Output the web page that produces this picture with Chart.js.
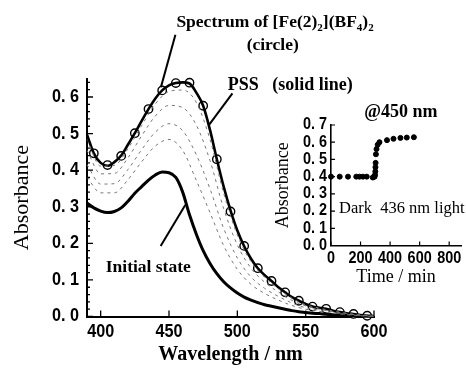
<!DOCTYPE html>
<html>
<head>
<meta charset="utf-8">
<script src="https://cdn.jsdelivr.net/npm/chart.js@4.4.0/dist/chart.umd.min.js"></script>
<style>
html, body { margin: 0; padding: 0; background: #fff; }
#wrap { position: relative; width: 466px; height: 369px; overflow: hidden; }
#main { position: absolute; left: 0; top: 0; }
#inset { position: absolute; left: 265px; top: 95px; }
</style>
</head>
<body>
<div id="wrap">
<canvas id="main" width="466" height="369"></canvas>
<canvas id="inset" width="201" height="200"></canvas>
</div>
<script>
// spectra, 5 nm steps
const wavelength = [390, 395, 400, 405, 410, 415, 420, 425, 430, 435, 440, 445, 450, 455, 460, 465, 470, 475, 480, 485, 490,
  495, 500, 505, 510, 515, 520, 525, 530, 535, 540, 545, 550, 555, 560, 565, 570, 575, 580, 585, 590, 595, 600]
const pss = [0.497, 0.446, 0.420, 0.412, 0.422, 0.440, 0.470, 0.501, 0.535, 0.567, 0.596, 0.618, 0.632, 0.638, 0.640, 0.637,
  0.612, 0.576, 0.510, 0.430, 0.355, 0.290, 0.235, 0.192, 0.158, 0.132, 0.113, 0.097, 0.080, 0.066, 0.053, 0.043, 0.034,
  0.027, 0.024, 0.021, 0.016, 0.012, 0.009, 0.007, 0.004, 0.002, 0.001]
const initial = [0.310, 0.297, 0.288, 0.284, 0.287, 0.297, 0.315, 0.337, 0.355, 0.373, 0.387, 0.395, 0.393, 0.380, 0.340,
  0.278, 0.225, 0.180, 0.145, 0.117, 0.095, 0.078, 0.064, 0.053, 0.045, 0.038, 0.032, 0.028, 0.024, 0.020, 0.016, 0.013,
  0.011, 0.009, 0.008, 0.006, 0.005, 0.004, 0.003, 0.002, 0.001, 0.001, 0.000]

// Fe complex spectrum (circles)
const circleWl = [395, 405, 415, 425, 435, 445, 455, 465, 475, 485, 495, 505, 515, 525, 535, 545, 555, 565, 575, 585, 595]
const circleAbs = [0.446, 0.414, 0.439, 0.501, 0.567, 0.618, 0.638, 0.639, 0.576, 0.430, 0.287, 0.193, 0.132, 0.097, 0.066,
  0.043, 0.027, 0.021, 0.012, 0.007, 0.002]

// intermediate spectra (dashed), 10 nm steps
const wl10 = [390, 400, 410, 420, 430, 440, 450, 460, 470, 480, 490, 500, 510, 520, 530, 540, 550, 560, 570, 580, 590, 600]
const mid1 = [0.484, 0.411, 0.413, 0.459, 0.522, 0.581, 0.615, 0.619, 0.585, 0.484, 0.337, 0.223, 0.150, 0.107, 0.076, 0.050,
  0.032, 0.023, 0.015, 0.009, 0.004, 0.001]
const mid2 = [0.454, 0.390, 0.391, 0.434, 0.494, 0.548, 0.577, 0.571, 0.523, 0.426, 0.295, 0.196, 0.132, 0.094, 0.067, 0.044,
  0.029, 0.020, 0.013, 0.008, 0.003, 0.001]
const mid3 = [0.415, 0.362, 0.363, 0.402, 0.456, 0.504, 0.527, 0.508, 0.442, 0.349, 0.241, 0.160, 0.108, 0.077, 0.055, 0.037,
  0.024, 0.017, 0.011, 0.006, 0.003, 0.001]
const mid4 = [0.381, 0.338, 0.338, 0.374, 0.423, 0.466, 0.484, 0.454, 0.372, 0.284, 0.194, 0.129, 0.088, 0.063, 0.045, 0.030,
  0.020, 0.014, 0.009, 0.005, 0.002, 0.000]

// inset: absorbance at 450 nm vs time
const timeMin = [0, 59, 115, 171, 193, 216, 242, 283, 290, 295, 298, 300, 301, 302, 304, 308, 316, 328, 379, 423, 470, 513, 561]
const abs450 = [0.40, 0.40, 0.40, 0.40, 0.40, 0.40, 0.40, 0.395, 0.40, 0.40, 0.41, 0.43, 0.455, 0.48, 0.53, 0.56, 0.585, 0.60,
  0.612, 0.62, 0.625, 0.627, 0.629]

const serif = '"Liberation Serif", "Times New Roman", serif'
const sans = '"Liberation Sans", Arial, sans-serif'

const pts = (xs, ys) => xs.map((x, i) => ({x: x, y: ys[i]}))
const fmt = (v) => v.toFixed(1).replace('.', '. ')

function dashed(data) {
  return {data: data, borderColor: '#777', borderWidth: 1, borderDash: [3, 4], pointRadius: 0, cubicInterpolationMode: 'monotone'}
}

// ticks pointing into the plot
const inTicks = {
  id: 'inTicks',
  afterDraw(chart, args, o) {
    const ctx = chart.ctx, xs = chart.scales.x, ys = chart.scales.y
    ctx.save()
    ctx.strokeStyle = '#000'
    ctx.lineWidth = o.lw
    ctx.beginPath()
    for (let i = 0; o.x0 + i * o.xStep <= xs.max + 1e-6; i++) {
      const px = xs.getPixelForValue(o.x0 + i * o.xStep)
      ctx.moveTo(px, ys.bottom); ctx.lineTo(px, ys.bottom - o.len)
    }
    for (let i = 0; i * o.yMinor <= ys.max + 1e-6; i++) {
      const v = i * o.yMinor
      const major = Math.abs(v / o.yStep - Math.round(v / o.yStep)) < 1e-6
      const py = ys.getPixelForValue(v)
      ctx.moveTo(xs.left, py); ctx.lineTo(xs.left + (major ? o.len : o.minorLen), py)
    }
    ctx.stroke()
    ctx.restore()
  }
}

// condensed bold tick labels at the scales' tick positions
const narrowLabels = {
  id: 'narrowLabels',
  afterDraw(chart, args, o) {
    const ctx = chart.ctx, xs = chart.scales.x, ys = chart.scales.y
    ctx.save()
    ctx.fillStyle = '#000'
    ctx.font = 'bold ' + o.size + 'px ' + sans
    ctx.textBaseline = 'middle'
    ys.ticks.forEach((t, i) => {
      const txt = fmt(t.value)
      const w = ctx.measureText(txt).width * o.sx
      ctx.save()
      ctx.translate(xs.left - o.yPad - w, ys.getPixelForTick(i))
      ctx.scale(o.sx, 1)
      ctx.fillText(txt, 0, 0)
      ctx.restore()
    })
    ctx.textBaseline = 'top'
    xs.ticks.forEach((t, i) => {
      const txt = String(t.value)
      const w = ctx.measureText(txt).width * o.sx
      ctx.save()
      ctx.translate(xs.getPixelForTick(i) - w / 2, ys.bottom + o.xPad)
      ctx.scale(o.sx, 1)
      ctx.fillText(txt, 0, 0)
      ctx.restore()
    })
    ctx.restore()
  }
}

// free text and leader lines, placed in data units
const notes = {
  id: 'notes',
  afterDraw(chart, args, o) {
    const ctx = chart.ctx, xs = chart.scales.x, ys = chart.scales.y
    ctx.save()
    ctx.fillStyle = '#000'
    ctx.strokeStyle = '#000'
    ctx.textBaseline = 'alphabetic'
    ;(o.lines || []).forEach((l) => {
      ctx.lineWidth = 2
      ctx.beginPath()
      ctx.moveTo(xs.getPixelForValue(l[0]), ys.getPixelForValue(l[1]))
      ctx.lineTo(xs.getPixelForValue(l[2]), ys.getPixelForValue(l[3]))
      ctx.stroke()
    })
    ;(o.texts || []).forEach((t) => {
      let px = xs.getPixelForValue(t.x)
      const py = ys.getPixelForValue(t.y)
      const size = t.size || 18
      const weight = t.weight || 'bold'
      if (t.center) {
        ctx.font = weight + ' ' + size + 'px ' + serif
        px -= ctx.measureText(t.parts.map((p) => p[0]).join('')).width / 2
      }
      t.parts.forEach((p) => {
        ctx.font = weight + ' ' + (p[1] ? Math.round(size * 0.62) : size) + 'px ' + serif
        ctx.fillText(p[0], px, py + (p[1] ? 4 : 0))
        px += ctx.measureText(p[0]).width
      })
    })
    ctx.restore()
  }
}

new Chart(document.getElementById('main'), {
  type: 'line',
  data: {
    datasets: [
      dashed(pts(wl10, mid1)),
      dashed(pts(wl10, mid2)),
      dashed(pts(wl10, mid3)),
      dashed(pts(wl10, mid4)),
      {data: pts(wavelength, initial), borderColor: '#000', borderWidth: 3, pointRadius: 0, cubicInterpolationMode: 'monotone'},
      {data: pts(wavelength, pss), borderColor: '#000', borderWidth: 2.6, pointRadius: 0, cubicInterpolationMode: 'monotone'},
      {data: pts(circleWl, circleAbs), showLine: false, pointRadius: 4.2, pointBackgroundColor: '#fff',
        pointBorderColor: '#000', pointBorderWidth: 1.4}
    ]
  },
  options: {
    responsive: false,
    devicePixelRatio: 1,
    animation: false,
    clip: false,
    layout: {padding: {top: 78.7, right: 92, left: 0, bottom: 0}},
    plugins: {
      legend: {display: false},
      tooltip: {enabled: false},
      inTicks: {x0: 400, xStep: 50, yStep: 0.1, yMinor: 0.02, len: 6, minorLen: 3, lw: 1.3},
      narrowLabels: {size: 18, sx: 0.9, yPad: 8, xPad: 7},
      notes: {
        lines: [[454.7, 0.77, 444.1, 0.627], [496.4, 0.61, 479.3, 0.524], [443.9, 0.193, 461.9, 0.305]],
        texts: [
          {x: 455.4, y: 0.791, size: 17.5, parts: [['Spectrum of [Fe(2)'], ['2', 1], ['](BF'], ['4', 1], [')'], ['2', 1]]},
          {x: 525.9, y: 0.729, size: 17.5, center: true, parts: [['(circle)']]},
          {x: 493, y: 0.619, parts: [['PSS   (solid line)']]},
          {x: 403.7, y: 0.122, size: 17.5, parts: [['Initial state']]}
        ]
      }
    },
    scales: {
      x: {
        type: 'linear', min: 390, max: 600,
        afterFit: (s) => { s.height = 52.5 },
        border: {display: true, color: '#000', width: 2},
        grid: {drawOnChartArea: false, drawTicks: false},
        ticks: {stepSize: 50, includeBounds: false, display: false},
        title: {display: true, text: 'Wavelength / nm', color: '#000', padding: {top: 0, bottom: 2},
          font: {family: serif, size: 20, weight: 'bold'}}
      },
      y: {
        min: 0, max: 0.65,
        afterFit: (s) => { s.width = 87 },
        border: {display: true, color: '#000', width: 2},
        grid: {drawOnChartArea: false, drawTicks: false},
        ticks: {stepSize: 0.1, includeBounds: false, display: false},
        title: {display: true, text: 'Absorbance', color: '#000', padding: {top: 9, bottom: 0},
          font: {family: serif, size: 22, weight: 'normal'}}
      }
    }
  },
  plugins: [inTicks, narrowLabels, notes]
})

new Chart(document.getElementById('inset'), {
  type: 'line',
  data: {
    datasets: [
      {data: pts(timeMin, abs450), showLine: false, pointRadius: 2.5, pointBackgroundColor: '#000', pointBorderColor: '#000'}
    ]
  },
  options: {
    responsive: false,
    devicePixelRatio: 1,
    animation: false,
    clip: false,
    layout: {padding: {top: 30, right: 0, left: 0, bottom: 0}},
    plugins: {
      legend: {display: false},
      tooltip: {enabled: false},
      inTicks: {x0: 0, xStep: 200, yStep: 0.1, yMinor: 0.1, len: 4, minorLen: 4, lw: 1.2},
      narrowLabels: {size: 16, sx: 0.9, yPad: 4, xPad: 5},
      notes: {
        texts: [
          {x: 225, y: 0.747, parts: [['@450 nm']]},
          {x: 54, y: 0.19, size: 16.5, weight: 'normal', parts: [['Dark  436 nm light']]}
        ]
      }
    },
    scales: {
      x: {
        type: 'linear', min: 0, max: 880,
        afterFit: (s) => { s.height = 49.5 },
        border: {display: true, color: '#000', width: 1.6},
        grid: {drawOnChartArea: false, drawTicks: false},
        ticks: {stepSize: 200, includeBounds: false, display: false},
        title: {display: true, text: 'Time / min', color: '#000', padding: {top: 0, bottom: 7},
          font: {family: serif, size: 18, weight: 'normal'}}
      },
      y: {
        min: 0, max: 0.7,
        afterFit: (s) => { s.width = 66 },
        border: {display: true, color: '#000', width: 1.6},
        grid: {drawOnChartArea: false, drawTicks: false},
        ticks: {stepSize: 0.1, includeBounds: false, display: false},
        title: {display: true, text: 'Absorbance', color: '#000', padding: {top: 7, bottom: 0},
          font: {family: serif, size: 18, weight: 'normal'}}
      }
    }
  },
  plugins: [inTicks, narrowLabels, notes]
})
</script>
</body>
</html>
